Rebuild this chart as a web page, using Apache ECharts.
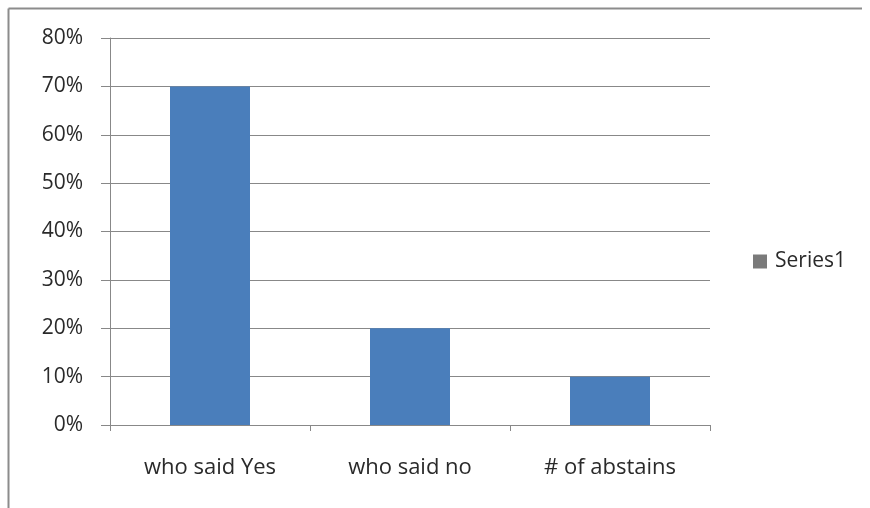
<!DOCTYPE html>
<html>
<head>
<meta charset="utf-8">
<script src="https://cdn.jsdelivr.net/npm/echarts@6/dist/echarts.min.js"></script>
<style>
html,body{margin:0;padding:0;background:#fff;}
#chart{width:870px;height:508px;}
</style>
</head>
<body>
<div id="chart"></div>
<script>
const categories = ["who said Yes", "who said no", "# of abstains"];
const seriesName = "Series1";
const values = [0.70, 0.20, 0.10];
const yTicks = [0, 0.1, 0.2, 0.3, 0.4, 0.5, 0.6, 0.7, 0.8];

const chart = echarts.init(document.getElementById('chart'));
const font = '"Open Sans", "Noto Sans", sans-serif';
chart.setOption({
  backgroundColor: '#fff',
  animation: false,
  graphic: [
    { type: 'line', shape: { x1: 8.5, y1: 8.5, x2: 862, y2: 8.5 }, style: { stroke: '#8c8c8c', lineWidth: 2 } },
    { type: 'line', shape: { x1: 8.5, y1: 8.5, x2: 8.5, y2: 508 }, style: { stroke: '#8c8c8c', lineWidth: 2 } }
  ],
  legend: {
    data: [seriesName],
    left: 748, top: 246,
    orient: 'vertical',
    itemWidth: 14, itemHeight: 14, itemGap: 6,
    icon: 'rect',
    textStyle: { fontFamily: font, fontSize: 21, color: '#2a2a2a', padding: [0, 0, 0, 3] },
    itemStyle: { color: '#7a7a7a' }
  },
  grid: { left: 110, right: 160, top: 38, bottom: 83, containLabel: false },
  xAxis: {
    type: 'category',
    data: categories,
    axisLine: { lineStyle: { color: '#888', width: 1 } },
    axisTick: { show: true, length: 6, lineStyle: { color: '#888' }, alignWithLabel: false },
    axisLabel: { fontFamily: font, fontSize: 22, color: '#2a2a2a', margin: 32 }
  },
  yAxis: {
    type: 'value',
    min: 0, max: 0.8, interval: 0.1,
    axisLine: { show: true, lineStyle: { color: '#888' } },
    axisTick: { show: true, length: 9, lineStyle: { color: '#888' } },
    splitLine: { show: true, lineStyle: { color: '#888', width: 1 } },
    axisLabel: {
      fontFamily: font, fontSize: 21, color: '#2a2a2a', margin: 27,
      formatter: v => Math.round(v * 100) + '%'
    }
  },
  series: [{
    name: seriesName,
    type: 'bar',
    data: values,
    barWidth: '40%',
    itemStyle: { color: '#4a7ebb' }
  }]
});
</script>
</body>
</html>
